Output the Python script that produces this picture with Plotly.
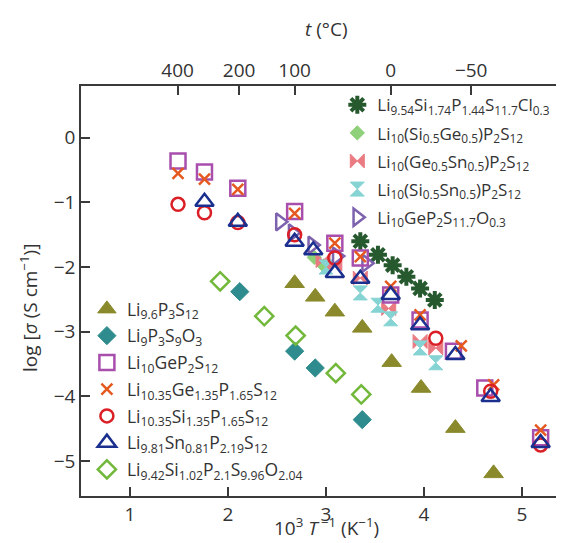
import plotly.graph_objects as go

# ---------------- data ----------------
# x: 10^3/T (K^-1), y: log sigma (S cm^-1)
li96_x = [2.68, 2.89, 3.09, 3.37, 3.67, 3.97, 4.32, 4.71]
li96_y = [-2.25, -2.46, -2.69, -2.94, -3.47, -3.87, -4.49, -5.19]

li9o_x = [2.12, 2.68, 2.89, 3.37]
li9o_y = [-2.38, -3.30, -3.56, -4.36]

lgps_x = [1.49, 1.76, 2.10, 2.68, 3.09, 3.35, 3.66, 3.96, 4.30, 4.62, 5.19]
lgps_y = [-0.36, -0.53, -0.78, -1.14, -1.63, -1.86, -2.43, -2.82, -3.30, -3.87, -4.64]

ge135_x = [1.49, 1.76, 2.10, 2.68, 3.09, 3.35, 3.66, 3.96, 4.38, 4.71, 5.19]
ge135_y = [-0.55, -0.64, -0.80, -1.17, -1.63, -1.84, -2.30, -2.74, -3.22, -3.82, -4.52]

si135_x = [1.49, 1.76, 2.10, 2.68, 3.09, 4.12, 4.68, 5.19]
si135_y = [-1.03, -1.16, -1.31, -1.50, -1.86, -3.10, -3.92, -4.75]

sn081_x = [1.76, 2.10, 2.68, 2.87, 3.09, 3.35, 3.66, 3.96, 4.32, 4.68, 5.19]
sn081_y = [-0.99, -1.30, -1.61, -1.74, -2.09, -2.18, -2.43, -2.90, -3.36, -4.01, -4.72]

si102_x = [1.92, 2.37, 2.69, 3.10, 3.36]
si102_y = [-2.22, -2.76, -3.06, -3.64, -3.97]

cl_x = [3.35, 3.53, 3.68, 3.82, 3.96, 4.11]
cl_y = [-1.60, -1.81, -1.97, -2.15, -2.33, -2.51]

sige_x = [2.88, 2.98]
sige_y = [-1.85, -1.98]

gesn_x = [2.97, 3.09, 3.35, 3.64, 3.96, 4.12]
gesn_y = [-1.90, -1.95, -2.17, -2.64, -3.15, -3.25]

sisn_x = [3.00, 3.35, 3.53, 3.66, 3.96, 4.12]
sisn_y = [-2.00, -2.40, -2.59, -2.80, -3.25, -3.48]

o03_x = [2.53, 2.66, 2.86, 3.11, 3.41]
o03_y = [-1.30, -1.47, -1.66, -1.83, -1.94]

top_ticks_c = [400, 200, 100, 0, -50]
bottom_ticks = [1, 2, 3, 4, 5]
left_ticks = [0, -1, -2, -3, -4, -5]

FONT = "Open Sans"
AX = "#3a3a3a"
TICKFONT = 19

fig = go.Figure()


def add(x, y, name, symbol, color, size, legend, filled=False, lw=2.5, rank=0):
    if filled:
        marker = dict(symbol=symbol, size=size, color=color, line=dict(width=1, color=color))
    else:
        marker = dict(symbol=symbol, size=size, color=color, line=dict(width=lw, color=color))
    fig.add_trace(go.Scatter(x=x, y=y, mode="markers", name=name, marker=marker,
                             legend=legend, legendgroup=name, legendrank=rank, showlegend=True))


# legend 2 (bottom-left) series
add(li96_x, li96_y, "Li<sub>9.6</sub>P<sub>3</sub>S<sub>12</sub>", "triangle-up", "#8a8a2c", 17,
    "legend2", filled=True, rank=1)
add(li9o_x, li9o_y, "Li<sub>9</sub>P<sub>3</sub>S<sub>9</sub>O<sub>3</sub>", "diamond", "#2f8c8e", 14,
    "legend2", filled=True, rank=2)
add(si102_x, si102_y, "Li<sub>9.42</sub>Si<sub>1.02</sub>P<sub>2.1</sub>S<sub>9.96</sub>O<sub>2.04</sub>",
    "diamond-open", "#72b83a", 14, "legend2", lw=2.5, rank=7)
# legend 1 (top-right) series
add(cl_x, cl_y, "Li<sub>9.54</sub>Si<sub>1.74</sub>P<sub>1.44</sub>S<sub>11.7</sub>Cl<sub>0.3</sub>",
    "asterisk-open", "#27592f", 15, "legend", lw=4, rank=11)
add(sige_x, sige_y, "Li<sub>10</sub>(Si<sub>0.5</sub>Ge<sub>0.5</sub>)P<sub>2</sub>S<sub>12</sub>",
    "diamond", "#8fd07a", 11, "legend", filled=True, rank=12)
add(gesn_x, gesn_y, "Li<sub>10</sub>(Ge<sub>0.5</sub>Sn<sub>0.5</sub>)P<sub>2</sub>S<sub>12</sub>",
    "bowtie", "#ea7b82", 14, "legend", filled=True, rank=13)
add(sisn_x, sisn_y, "Li<sub>10</sub>(Si<sub>0.5</sub>Sn<sub>0.5</sub>)P<sub>2</sub>S<sub>12</sub>",
    "hourglass", "#86d3d3", 14, "legend", filled=True, rank=14)
add(o03_x, o03_y, "Li<sub>10</sub>GeP<sub>2</sub>S<sub>11.7</sub>O<sub>0.3</sub>",
    "triangle-right-open", "#7d62ad", 15, "legend", lw=2.5, rank=15)
add(lgps_x, lgps_y, "Li<sub>10</sub>GeP<sub>2</sub>S<sub>12</sub>", "square-open", "#a84fae", 15,
    "legend2", lw=2.5, rank=3)
add(ge135_x, ge135_y, "Li<sub>10.35</sub>Ge<sub>1.35</sub>P<sub>1.65</sub>S<sub>12</sub>",
    "x-thin-open", "#e5581f", 11, "legend2", lw=2.5, rank=4)
add(si135_x, si135_y, "Li<sub>10.35</sub>Si<sub>1.35</sub>P<sub>1.65</sub>S<sub>12</sub>",
    "circle-open", "#da1f26", 13, "legend2", lw=2.5, rank=5)
add(sn081_x, sn081_y, "Li<sub>9.81</sub>Sn<sub>0.81</sub>P<sub>2.19</sub>S<sub>12</sub>",
    "triangle-up-open", "#1b2f8f", 16, "legend2", lw=2.5, rank=6)

xr = [0.5, 5.51]
yr = [-5.54, 0.80]

axis_common = dict(ticks="inside", ticklen=9, tickwidth=1.5, tickcolor=AX, showline=True,
                   linecolor=AX, linewidth=1.5, showgrid=False, zeroline=False,
                   tickfont=dict(size=TICKFONT, family=FONT, color="#333"))

fig.update_layout(
    width=564, height=543,
    margin=dict(l=73, r=0, t=78, b=55),
    paper_bgcolor="white", plot_bgcolor="white",
    font=dict(family=FONT, size=17, color="#333333"),
    xaxis=dict(range=xr, tickvals=bottom_ticks, **axis_common),
    xaxis2=dict(range=xr, overlaying="x", side="top",
                tickvals=[1000.0 / (t + 273.15) for t in top_ticks_c],
                ticktext=["\u2212" + str(-t) if t < 0 else str(t) for t in top_ticks_c],
                **axis_common),
    yaxis=dict(range=yr, tickvals=left_ticks,
               ticktext=["\u2212" + str(-v) if v < 0 else str(v) for v in left_ticks],
               **axis_common),
    legend=dict(x=0.522, y=0.997, xanchor="left", yanchor="top", bgcolor="rgba(0,0,0,0)",
                font=dict(size=17, family=FONT, color="#333"), tracegroupgap=3,
                itemwidth=30),
    legend2=dict(x=0.012, y=0.50, xanchor="left", yanchor="top", bgcolor="rgba(0,0,0,0)",
                 font=dict(size=17.5, family=FONT, color="#333"), tracegroupgap=1,
                 itemwidth=30),
    showlegend=True,
)

# dummy trace to activate the top axis
fig.add_trace(go.Scatter(x=[None], y=[None], xaxis="x2", showlegend=False, hoverinfo="skip"))

title_font = dict(size=19, family=FONT, color="#333")
fig.add_annotation(text="<i>t</i> (°C)", xref="paper", yref="paper", x=(318 - 73) / 491,
                   y=(488 - 21) / 410, showarrow=False, font=title_font,
                   xanchor="center", yanchor="middle")
fig.add_annotation(text="10<sup>3</sup> <i>T</i>\u2009<sup>\u22121</sup> (K<sup>\u22121</sup>)", xref="paper",
                   yref="paper", x=(318 - 73) / 491, y=(488 - 519) / 410, showarrow=False,
                   font=title_font, xanchor="center", yanchor="middle")
fig.add_annotation(text="log [<i>σ</i> (S cm<sup>\u22121</sup>)]", xref="paper", yref="paper",
                   x=(21 - 73) / 491, y=(488 - 300) / 410, showarrow=False, textangle=-90,
                   font=title_font, xanchor="center", yanchor="middle")

fig.write_html("out.html")
